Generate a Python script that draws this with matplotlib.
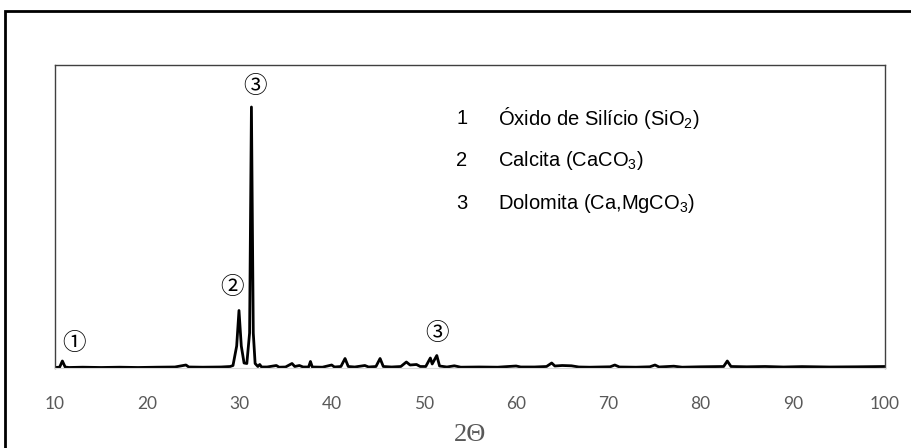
import matplotlib
matplotlib.use("Agg")
import matplotlib.pyplot as plt
from matplotlib.patches import Rectangle

plt.rcParams['mathtext.fontset'] = 'custom'
plt.rcParams['mathtext.rm'] = 'Liberation Sans'
plt.rcParams['mathtext.default'] = 'rm'

# XRD scan (2 theta, counts)
two_theta = [10.0, 10.5, 10.8, 11.1, 11.5, 13.0, 15.0, 17.0, 19.0, 21.0, 23.0, 24.2, 24.5,
             26.0, 28.0, 29.0, 29.3, 29.7, 29.95, 30.2, 30.5, 30.8, 31.1, 31.3, 31.5, 31.7,
             32.0, 32.2, 32.4, 33.0, 34.0, 34.3, 35.0, 35.7, 36.0, 36.5, 36.9, 37.5, 37.7,
             37.9, 39.0, 40.0, 40.3, 41.0, 41.45, 41.8, 42.5, 43.6, 44.0, 44.8, 45.25, 45.6,
             46.5, 47.5, 48.1, 48.5, 49.2, 49.6, 50.2, 50.7, 50.9, 51.4, 51.7, 52.5, 53.3,
             54.0, 56.0, 58.0, 60.0, 60.5, 62.0, 63.3, 63.86, 64.2, 65.0, 66.0, 66.8, 68.0,
             70.2, 70.7, 71.2, 73.0, 74.5, 75.06, 75.5, 77.1, 78.0, 80.0, 82.5, 82.9, 83.3,
             85.0, 87.0, 89.0, 91.0, 94.0, 97.0, 100.0]
intensity = [5, 8, 70, 10, 5, 8, 5, 8, 5, 8, 10, 30, 10,
             8, 10, 15, 25, 220, 575, 220, 50, 45, 350, 2610, 350, 45,
             15, 35, 10, 10, 25, 8, 10, 45, 15, 25, 10, 10, 65,
             10, 8, 30, 10, 15, 95, 15, 10, 25, 10, 15, 95, 15,
             10, 15, 60, 30, 35, 15, 15, 100, 40, 125, 20, 10, 22,
             8, 10, 8, 20, 10, 10, 15, 50, 20, 25, 22, 10, 8,
             12, 30, 10, 8, 12, 30, 10, 18, 8, 12, 15, 70, 15,
             12, 15, 10, 14, 10, 12, 15]

# phase markers
mark_x = [12.06, 29.2, 31.65, 51.4]
mark_y = [240, 800, 2820, 350]
mark_txt = ['①', '②', '③', '③']

phase_num = ['1', '2', '3']
phase_name = [r'Óxido de Silício (SiO$_2$)', r'Calcita (CaCO$_3$)', r'Dolomita (Ca,MgCO$_3$)']

fig = plt.figure(figsize=(9.12, 4.48), dpi=100)
fig.patches.append(Rectangle((5 / 912, -0.1), 1.2, 1.1 - 11 / 448, transform=fig.transFigure,
                             fill=False, edgecolor='black', linewidth=2))

ax = fig.add_axes([55 / 912, 1 - 368 / 448, 830 / 912, 303 / 448])
ax.plot(two_theta, intensity, color='black', linewidth=2)
ax.set_xlim(10, 100)
ax.set_ylim(0, 3030)
ax.set_xticks(range(10, 101, 10))
ax.set_yticks([])
ax.tick_params(axis='x', length=0, pad=20, labelsize=12.5, labelcolor='#595959')
for lab in ax.get_xticklabels():
    lab.set_family('Lato')
for s in ['left', 'top', 'right']:
    ax.spines[s].set_color('#404040')
    ax.spines[s].set_linewidth(1)
ax.spines['bottom'].set_color('#d9d9d9')

ax.set_xlabel('2Θ', family='Liberation Serif', fontsize=19, color='#595959', labelpad=9)

for x, y, t in zip(mark_x, mark_y, mark_txt):
    ax.text(x, y, t, ha='center', va='center', fontsize=17,
            family=['Noto Sans CJK JP', 'DejaVu Sans'])

for i, (n, name) in enumerate(zip(phase_num, phase_name)):
    yy = 1 - (118 + 42.5 * i) / 448
    fig.text(462 / 912, yy, n, ha='center', va='center', fontsize=14.5, family='Liberation Sans')
    fig.text(498 / 912, yy, name, ha='left', va='center', fontsize=14.5, family='Liberation Sans')

fig.savefig('out.png', dpi=100)
